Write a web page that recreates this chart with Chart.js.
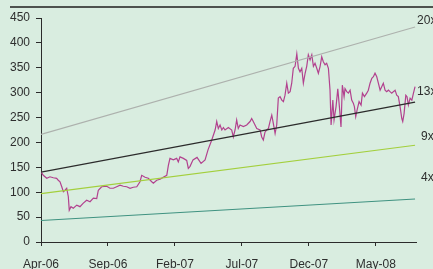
<!DOCTYPE html>
<html>
<head>
<meta charset="utf-8">
<script src="https://cdn.jsdelivr.net/npm/chart.js@4/dist/chart.umd.min.js"></script>
<style>
    html, body { margin: 0; padding: 0; background: #d9ede0; }
    #wrap { width: 433px; height: 269px; position: relative; }
</style>
</head>
<body>
<div id="wrap"><canvas id="peChart"></canvas></div>
<script>
// x values are months since Apr-06
const tickMonths = [0, 5, 10, 15, 20, 25];
const tickLabels = ['Apr-06', 'Sep-06', 'Feb-07', 'Jul-07', 'Dec-07', 'May-08'];
const yTicks = [0, 50, 100, 150, 200, 250, 300, 350, 400, 450];

const priceMonths = [
    0.00, 0.17, 0.43, 0.67, 0.92, 1.17, 1.29, 1.42, 1.55, 1.67, 1.79, 1.92, 2.04, 2.11, 2.24, 2.41,
    2.67, 2.91, 3.16, 3.41, 3.66, 3.91, 4.16, 4.28, 4.53, 4.91, 5.15, 5.40, 5.65, 5.90, 6.15, 6.40,
    6.65, 6.89, 7.15, 7.39, 7.52, 7.77, 8.01, 8.27, 8.39, 8.64, 8.89, 9.13, 9.39, 9.51, 9.63, 9.88,
    10.13, 10.25, 10.38, 10.63, 10.88, 11.00, 11.13, 11.35, 11.65, 11.95, 12.25, 12.47, 12.75, 13.00,
    13.12, 13.24, 13.37, 13.50, 13.62, 13.74, 13.99, 14.24, 14.36, 14.49, 14.61, 14.73, 14.86, 15.11,
    15.36, 15.61, 15.73, 15.85, 16.11, 16.36, 16.48, 16.60, 16.73, 16.85, 16.98, 17.10, 17.23, 17.35,
    17.48, 17.60, 17.72, 17.85, 17.98, 18.10, 18.22, 18.35, 18.47, 18.60, 18.72, 18.84, 18.97, 19.10,
    19.22, 19.34, 19.47, 19.59, 19.72, 19.84, 19.96, 20.09, 20.22, 20.34, 20.46, 20.59, 20.71, 20.84,
    20.96, 21.08, 21.21, 21.33, 21.46, 21.58, 21.66, 21.79, 21.88, 22.03, 22.16, 22.28, 22.40, 22.50,
    22.63, 22.70, 22.83, 22.95, 23.08, 23.20, 23.32, 23.40, 23.50, 23.60, 23.75, 23.90, 24.00, 24.15,
    24.32, 24.44, 24.57, 24.70, 24.82, 24.94, 25.07, 25.19, 25.32, 25.44, 25.56, 25.69, 25.81, 25.94,
    26.06, 26.19, 26.31, 26.44, 26.56, 26.68, 26.81, 26.94, 27.01, 27.11, 27.24, 27.33, 27.43, 27.56,
    27.69, 27.81, 27.93
];
const priceValues = [
    141, 134, 128, 131, 129, 128, 124, 121, 111, 101, 104, 108, 91, 64, 71, 68,
    74, 71, 78, 84, 81, 88, 87, 104, 111, 112, 108, 108, 111, 114, 112, 111,
    108, 110, 111, 121, 134, 130, 128, 121, 118, 124, 126, 130, 134, 154, 168, 165,
    168, 161, 171, 168, 164, 148, 152, 165, 170, 158, 165, 185, 205, 225,
    242, 228, 235, 225, 230, 225, 230, 225, 211, 225, 245, 228, 235, 232,
    235, 242, 248, 242, 228, 225, 211, 205, 221, 225, 228, 242, 255, 238,
    218, 235, 289, 292, 285, 282, 295, 319, 299, 302, 319, 349, 353, 378,
    349, 342, 349, 319, 339, 353, 376, 366, 376, 353, 359, 349, 339, 353,
    372, 362, 356, 359, 349, 305, 235, 285, 245, 272, 308, 272, 231, 315,
    292, 308, 302, 299, 305, 285, 279, 272, 252, 265, 282, 275, 299, 292,
    299, 305, 319, 329, 332, 339, 332, 319, 305, 312, 319, 305, 302, 305,
    302, 299, 302, 305, 295, 292, 272, 248, 242, 258, 295, 292, 275, 289,
    285, 299, 312
];

// earnings per share at start and end of the period, bands are multiples of it
const epsMonths = [0, 27.93];
const epsValues = [10.8, 21.6];
const multiples = [20, 13, 9, 4];
const bandNames = ['20x', '13x', '9x', '4x'];
const bandColors = ['#adb1ad', '#2b2b2b', '#a3cf3c', '#3f9280'];
const bandLabelValues = [444, 302, 211, 129];
const bandLabelShift = [2, 2, 6, 6];

const textColor = '#2e2e2e';

const bandDatasets = multiples.map((m, i) => ({
    label: bandNames[i],
    data: epsMonths.map((x, j) => ({ x: x, y: epsValues[j] * m })),
    borderColor: bandColors[i],
    borderWidth: i === 1 ? 1.3 : 1.2,
    pointRadius: 0,
    tension: 0
}));

const priceDataset = {
    label: 'Price',
    data: priceMonths.map((x, i) => ({ x: x, y: priceValues[i] })),
    borderColor: '#b2418e',
    borderWidth: 1.2,
    pointRadius: 0,
    tension: 0
};

const decorPlugin = {
    id: 'decor',
    beforeDraw(chart) {
        const ctx = chart.ctx;
        ctx.save();
        ctx.fillStyle = '#d9ede0';
        ctx.fillRect(0, 0, chart.width, chart.height);
        // rule under the (cropped) heading
        ctx.strokeStyle = '#1e1e1e';
        ctx.lineWidth = 1.5;
        ctx.beginPath();
        ctx.moveTo(10, 7);
        ctx.lineTo(chart.width, 7);
        ctx.stroke();
        ctx.restore();
    },
    afterDatasetsDraw(chart) {
        const ctx = chart.ctx;
        const yScale = chart.scales.y;
        ctx.save();
        ctx.font = '12px "Liberation Sans", Arial, sans-serif';
        ctx.fillStyle = textColor;
        ctx.textAlign = 'left';
        ctx.textBaseline = 'middle';
        bandNames.forEach((name, i) => {
            const pts = chart.getDatasetMeta(i).data;
            const last = pts[pts.length - 1];
            ctx.fillText(name, last.x + bandLabelShift[i], yScale.getPixelForValue(bandLabelValues[i]));
        });
        ctx.restore();
    }
};

new Chart(document.getElementById('peChart'), {
    type: 'line',
    data: { datasets: bandDatasets.concat([priceDataset]) },
    plugins: [decorPlugin],
    options: {
        responsive: true,
        maintainAspectRatio: false,
        animation: false,
        layout: { padding: { top: 18, right: 17, left: 0, bottom: 0 } },
        plugins: {
            legend: { display: false },
            tooltip: { enabled: false }
        },
        scales: {
            x: {
                type: 'linear',
                min: 0,
                max: 28,
                afterBuildTicks: (scale) => {
                    scale.ticks = tickMonths.map(v => ({ value: v }));
                },
                afterFit: (scale) => { scale.height = 27; },
                grid: { drawOnChartArea: false, drawTicks: true, tickLength: 4, color: '#2b2b2b' },
                border: { color: '#2b2b2b', width: 1 },
                ticks: {
                    padding: 11,
                    maxRotation: 0,
                    autoSkip: false,
                    color: textColor,
                    font: { family: '"Liberation Sans", Arial, sans-serif', size: 12 },
                    callback: (v) => tickLabels[tickMonths.indexOf(v)]
                }
            },
            y: {
                min: 0,
                max: 450,
                afterBuildTicks: (scale) => {
                    scale.ticks = yTicks.map(v => ({ value: v }));
                },
                afterFit: (scale) => { scale.width = 41; },
                grid: { drawOnChartArea: false, drawTicks: true, tickLength: 5, color: '#2b2b2b' },
                border: { color: '#2b2b2b', width: 1 },
                ticks: {
                    padding: 6,
                    color: textColor,
                    font: { family: '"Liberation Sans", Arial, sans-serif', size: 12 }
                }
            }
        }
    }
});
</script>
</body>
</html>
